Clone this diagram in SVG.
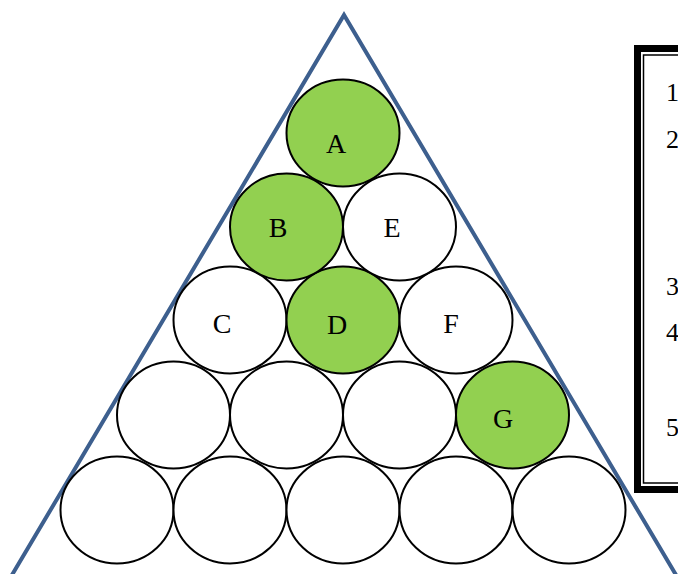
<svg xmlns="http://www.w3.org/2000/svg" width="678" height="574" viewBox="0 0 678 574">
<style>
.b{stroke:#000;stroke-width:2}
.w{fill:#fff}
.g{fill:#92D050}
.t{font-family:"Liberation Serif","Times New Roman",serif;font-size:28px;fill:#000;text-anchor:middle}
.n{font-family:"Liberation Serif","Times New Roman",serif;font-size:26px;fill:#000}
</style>
<rect width="678" height="574" fill="#fff"/>
<g id="frame">
<rect x="637.5" y="48.5" width="80" height="441" fill="none" stroke="#000" stroke-width="7"/>
<rect x="643.5" y="55" width="80" height="428" fill="none" stroke="#000" stroke-width="1.5"/>
<text class="n" x="666" y="101">1</text>
<text class="n" x="666" y="148">2</text>
<text class="n" x="666" y="295">3</text>
<text class="n" x="666" y="341">4</text>
<text class="n" x="666" y="436">5</text>
</g>
<g id="triangle">
<polyline points="9,580 344,15 679,580" fill="none" stroke="#3D5F8E" stroke-width="4" stroke-linejoin="miter"/>
</g>
<g id="row5">
<ellipse class="b w" cx="117" cy="510" rx="56.5" ry="53.5"/>
<ellipse class="b w" cx="230" cy="510" rx="56.5" ry="53.5"/>
<ellipse class="b w" cx="343" cy="510" rx="56.5" ry="53.5"/>
<ellipse class="b w" cx="456" cy="510" rx="56.5" ry="53.5"/>
<ellipse class="b w" cx="569" cy="510" rx="56.5" ry="53.5"/>
</g>
<g id="row4">
<ellipse class="b w" cx="173.5" cy="415" rx="56.5" ry="53.5"/>
<ellipse class="b w" cx="286.5" cy="415" rx="56.5" ry="53.5"/>
<ellipse class="b w" cx="399.5" cy="415" rx="56.5" ry="53.5"/>
</g>
<g id="G">
<ellipse class="b g" cx="512.5" cy="415" rx="56.5" ry="53.5"/>
<text class="t" x="503" y="428">G</text>
</g>
<g id="C">
<ellipse class="b w" cx="230" cy="320" rx="56.5" ry="53.5"/>
<text class="t" x="222" y="333">C</text>
</g>
<g id="D">
<ellipse class="b g" cx="343" cy="320" rx="56.5" ry="53.5"/>
<text class="t" x="337" y="334">D</text>
</g>
<g id="F">
<ellipse class="b w" cx="456" cy="320" rx="56.5" ry="53.5"/>
<text class="t" x="451" y="333">F</text>
</g>
<g id="B">
<ellipse class="b g" cx="286.5" cy="227" rx="56.5" ry="53.5"/>
<text class="t" x="278" y="237">B</text>
</g>
<g id="E">
<ellipse class="b w" cx="399.5" cy="227" rx="56.5" ry="53.5"/>
<text class="t" x="392" y="237">E</text>
</g>
<g id="A">
<ellipse class="b g" cx="343" cy="133" rx="56.5" ry="53.5"/>
<text class="t" x="336" y="153">A</text>
</g>
</svg>
